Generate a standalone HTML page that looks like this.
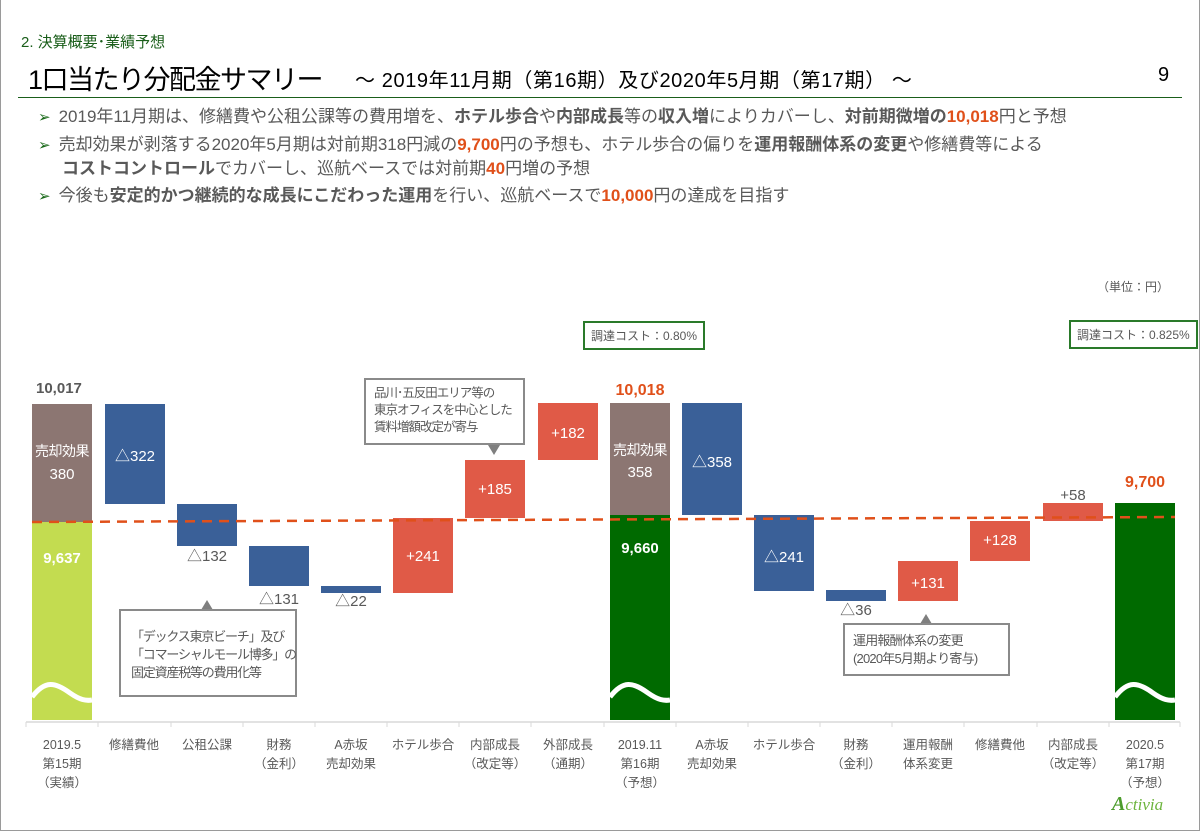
<!DOCTYPE html>
<html><head><meta charset="utf-8"><style>
*{margin:0;padding:0;box-sizing:border-box}
body{width:1200px;height:831px;position:relative;background:#fff;font-family:"Liberation Sans","Noto Sans CJK JP",sans-serif;color:#595959;overflow:hidden}
#frame{position:absolute;left:0;top:0;width:1200px;height:831px;border:1px solid #9a9a9a;border-top:none}
.a{position:absolute;white-space:nowrap}
.b{position:absolute}
.bl{background:#3a6098}.rd{background:#e05a47}.br{background:#8c7672}.lg{background:#c3dc50}.dg{background:#006a00}
.lab{position:absolute;text-align:center;font-size:14px;line-height:19px;color:#595959}
.w{color:#fff;text-align:center;font-size:15px}
.o{color:#e0501a;font-weight:bold}
.k{font-weight:bold;color:#595959}
.note{position:absolute;border:2px solid #8a8a8a;background:#fff;font-size:13px;line-height:18px;color:#595959;padding:8px 10px;white-space:nowrap;letter-spacing:-0.8px}
.gbox{position:absolute;border:2px solid #2a7a2a;font-size:12px;color:#595959;padding:4px 6px;background:#fff}
.tri{position:absolute;width:0;height:0;border-left:6px solid transparent;border-right:6px solid transparent;border-bottom:10px solid #7f7f7f}
.bul{font-size:17px;line-height:24px}
.bul .ar{color:#1a6a1a;font-size:15px;margin-right:8px}
</style></head><body>
<div id="frame"></div>
<div class="a" style="left:21px;top:31px;font-size:15px;color:#1a5e1a">2. 決算概要･業績予想</div>
<div class="a" style="left:28px;top:58px;font-size:27px;color:#000;letter-spacing:-1.5px">1口当たり分配金サマリー</div>
<div class="a" style="left:355px;top:64px;font-size:20px;color:#000;letter-spacing:0.6px">～ 2019年11月期（第16期）及び2020年5月期（第17期） ～</div>
<div class="a" style="left:1158px;top:64px;font-size:20px;color:#000">9</div>
<div class="b" style="left:18px;top:97px;width:1164px;height:1px;background:#1a5e1a"></div>
<div class="a bul" style="left:38px;top:105px"><span class="ar">➢</span>2019年11月期は、修繕費や公租公課等の費用増を、<b class="k">ホテル歩合</b>や<b class="k">内部成長</b>等の<b class="k">収入増</b>によりカバーし、<b class="k">対前期微増の</b><b class="o">10,018</b>円と予想</div>
<div class="a bul" style="left:38px;top:133px"><span class="ar">➢</span>売却効果が剥落する2020年5月期は対前期318円減の<b class="o">9,700</b>円の予想も、ホテル歩合の偏りを<b class="k">運用報酬体系の変更</b>や修繕費等による</div>
<div class="a bul" style="left:62px;top:157px"><b class="k">コストコントロール</b>でカバーし、巡航ベースでは対前期<b class="o">40</b>円増の予想</div>
<div class="a bul" style="left:38px;top:184px"><span class="ar">➢</span>今後も<b class="k">安定的かつ継続的な成長にこだわった運用</b>を行い、巡航ベースで<b class="o">10,000</b>円の達成を目指す</div>
<div class="a" style="left:1097px;top:278px;font-size:12px">（単位：円）</div>
<div class="gbox" style="left:583px;top:321px">調達コスト：0.80%</div>
<div class="gbox" style="left:1069px;top:320px">調達コスト：0.825%</div>

<div class="b br" style="left:32px;top:404px;width:60px;height:118px"></div>
<div class="b lg" style="left:32px;top:522px;width:60px;height:198px"></div>
<div class="b bl" style="left:105px;top:404px;width:60px;height:100px"></div>
<div class="b bl" style="left:177px;top:504px;width:60px;height:42px"></div>
<div class="b bl" style="left:249px;top:546px;width:60px;height:40px"></div>
<div class="b bl" style="left:321px;top:586px;width:60px;height:7px"></div>
<div class="b rd" style="left:393px;top:518px;width:60px;height:75px"></div>
<div class="b rd" style="left:465px;top:460px;width:60px;height:58px"></div>
<div class="b rd" style="left:538px;top:403px;width:60px;height:57px"></div>
<div class="b br" style="left:610px;top:403px;width:60px;height:112px"></div>
<div class="b dg" style="left:610px;top:515px;width:60px;height:205px"></div>
<div class="b bl" style="left:682px;top:403px;width:60px;height:112px"></div>
<div class="b bl" style="left:754px;top:515px;width:60px;height:76px"></div>
<div class="b bl" style="left:826px;top:590px;width:60px;height:11px"></div>
<div class="b rd" style="left:898px;top:561px;width:60px;height:40px"></div>
<div class="b rd" style="left:970px;top:521px;width:60px;height:40px"></div>
<div class="b rd" style="left:1043px;top:503px;width:60px;height:18px"></div>
<div class="b dg" style="left:1115px;top:503px;width:60px;height:217px"></div>

<svg class="b" style="left:0;top:0" width="1200" height="831">
<line x1="32" y1="522" x2="1175" y2="517" stroke="#e0501a" stroke-width="2.5" stroke-dasharray="10,7"/>
<g fill="none" stroke="#fff" stroke-width="5">
<path d="M32 697 C45 680,55 682,70 693 C80 700,86 701,92 700"/>
<path d="M610 697 C623 680,633 682,648 693 C658 700,664 701,670 700"/>
<path d="M1115 697 C1128 680,1138 682,1153 693 C1163 700,1169 701,1175 700"/>
</g>
<line x1="26" y1="722" x2="1180" y2="722" stroke="#d9d9d9" stroke-width="1.5"/>
<g stroke="#d9d9d9"><line x1="26" y1="722" x2="26" y2="727"/><line x1="98" y1="722" x2="98" y2="727"/><line x1="171" y1="722" x2="171" y2="727"/><line x1="243" y1="722" x2="243" y2="727"/><line x1="315" y1="722" x2="315" y2="727"/><line x1="387" y1="722" x2="387" y2="727"/><line x1="459" y1="722" x2="459" y2="727"/><line x1="531" y1="722" x2="531" y2="727"/><line x1="604" y1="722" x2="604" y2="727"/><line x1="676" y1="722" x2="676" y2="727"/><line x1="748" y1="722" x2="748" y2="727"/><line x1="820" y1="722" x2="820" y2="727"/><line x1="892" y1="722" x2="892" y2="727"/><line x1="964" y1="722" x2="964" y2="727"/><line x1="1037" y1="722" x2="1037" y2="727"/><line x1="1109" y1="722" x2="1109" y2="727"/><line x1="1180" y1="722" x2="1180" y2="727"/></g>
</svg>

<div class="a" style="left:36px;top:380px;font-size:15px;font-weight:bold;color:#595959">10,017</div>
<div class="a w" style="left:22px;top:441px;width:80px;font-size:14px;letter-spacing:-0.5px">売却効果</div>
<div class="a w" style="left:22px;top:466px;width:80px">380</div>
<div class="a w" style="left:22px;top:550px;width:80px;font-weight:bold">9,637</div>
<div class="a w" style="left:95px;top:445px;width:80px">△322</div>
<div class="a lab" style="left:167px;top:547px;width:80px;font-size:15px">△132</div>
<div class="a lab" style="left:239px;top:590px;width:80px;font-size:15px">△131</div>
<div class="a lab" style="left:311px;top:592px;width:80px;font-size:15px">△22</div>
<div class="a w" style="left:383px;top:548px;width:80px">+241</div>
<div class="a w" style="left:455px;top:481px;width:80px">+185</div>
<div class="a w" style="left:528px;top:425px;width:80px">+182</div>
<div class="a o" style="left:600px;top:382px;width:80px;text-align:center;font-size:16px">10,018</div>
<div class="a w" style="left:600px;top:440px;width:80px;font-size:14px;letter-spacing:-0.5px">売却効果</div>
<div class="a w" style="left:600px;top:464px;width:80px">358</div>
<div class="a w" style="left:600px;top:540px;width:80px;font-weight:bold">9,660</div>
<div class="a w" style="left:672px;top:451px;width:80px">△358</div>
<div class="a w" style="left:744px;top:546px;width:80px">△241</div>
<div class="a lab" style="left:816px;top:601px;width:80px;font-size:15px">△36</div>
<div class="a w" style="left:888px;top:575px;width:80px">+131</div>
<div class="a w" style="left:960px;top:532px;width:80px">+128</div>
<div class="a lab" style="left:1033px;top:486px;width:80px;font-size:15px">+58</div>
<div class="a o" style="left:1105px;top:474px;width:80px;text-align:center;font-size:16px">9,700</div>

<div class="note" style="left:364px;top:378px;width:161px;height:67px;font-size:12.5px;line-height:17px;padding:5px 8px;letter-spacing:-1px">品川･五反田エリア等の<br>東京オフィスを中心とした<br>賃料増額改定が寄与</div>
<div class="b" style="left:488px;top:445px;width:0;height:0;border-left:6px solid transparent;border-right:6px solid transparent;border-top:10px solid #7f7f7f"></div>
<div class="tri" style="left:201px;top:600px"></div>
<div class="note" style="left:119px;top:609px;width:178px;height:88px;padding:17px 8px 0 10px;font-size:13px;letter-spacing:-1.2px">「デックス東京ビーチ」及び<br>「コマーシャルモール博多」の<br>固定資産税等の費用化等</div>
<div class="tri" style="left:920px;top:614px"></div>
<div class="note" style="left:843px;top:623px;width:167px;height:53px;padding:7px 8px;font-size:13px">運用報酬体系の変更<br>(2020年5月期より寄与)</div>

<div class="lab" style="left:22px;top:736px;width:80px;font-size:12.5px">2019.5<br>第15期<br>（実績）</div>
<div class="lab" style="left:94px;top:736px;width:80px;font-size:12.5px">修繕費他</div>
<div class="lab" style="left:167px;top:736px;width:80px;font-size:12.5px">公租公課</div>
<div class="lab" style="left:239px;top:736px;width:80px;font-size:12.5px">財務<br>（金利）</div>
<div class="lab" style="left:311px;top:736px;width:80px;font-size:12.5px">A赤坂<br>売却効果</div>
<div class="lab" style="left:383px;top:736px;width:80px;font-size:12.5px">ホテル歩合</div>
<div class="lab" style="left:455px;top:736px;width:80px;font-size:12.5px">内部成長<br>（改定等）</div>
<div class="lab" style="left:528px;top:736px;width:80px;font-size:12.5px">外部成長<br>（通期）</div>
<div class="lab" style="left:600px;top:736px;width:80px;font-size:12.5px">2019.11<br>第16期<br>（予想）</div>
<div class="lab" style="left:672px;top:736px;width:80px;font-size:12.5px">A赤坂<br>売却効果</div>
<div class="lab" style="left:744px;top:736px;width:80px;font-size:12.5px">ホテル歩合</div>
<div class="lab" style="left:816px;top:736px;width:80px;font-size:12.5px">財務<br>（金利）</div>
<div class="lab" style="left:888px;top:736px;width:80px;font-size:12.5px">運用報酬<br>体系変更</div>
<div class="lab" style="left:960px;top:736px;width:80px;font-size:12.5px">修繕費他</div>
<div class="lab" style="left:1033px;top:736px;width:80px;font-size:12.5px">内部成長<br>（改定等）</div>
<div class="lab" style="left:1105px;top:736px;width:80px;font-size:12.5px">2020.5<br>第17期<br>（予想）</div>
<div class="a" style="left:1112px;top:793px;font-family:'Liberation Serif',serif;font-style:italic;font-size:17px;color:#6cb43c"><b style="font-size:20px;color:#4c9c2c">A</b>ctivia</div>
</body></html>
